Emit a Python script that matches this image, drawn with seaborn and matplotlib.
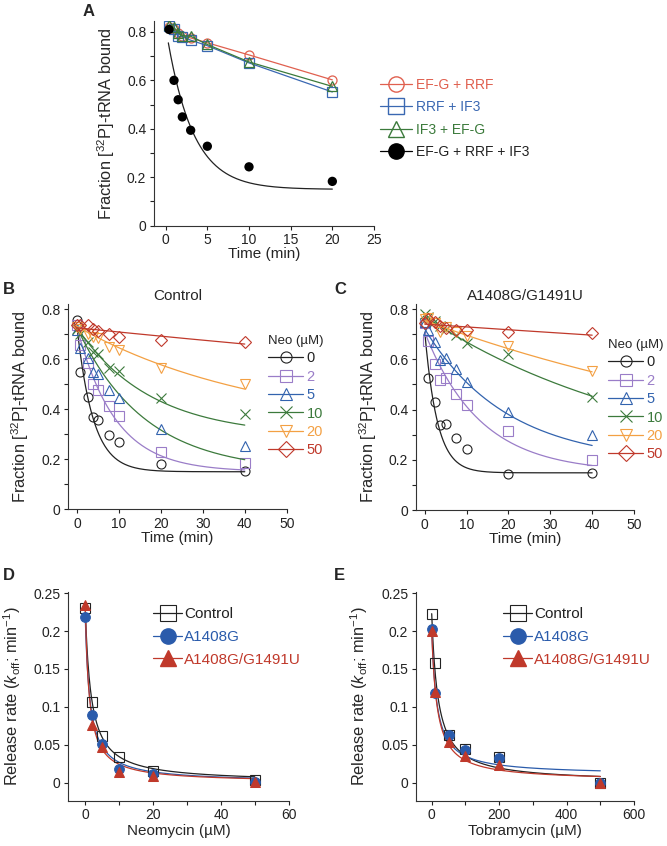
import numpy as np
import pandas as pd
import seaborn as sns
import matplotlib.pyplot as plt
from matplotlib.lines import Line2D
from matplotlib.ticker import MultipleLocator, FuncFormatter

sns.set_style("ticks")
plt.rcParams['font.family'] = ['Liberation Sans', 'DejaVu Sans']
plt.rcParams['mathtext.fontset'] = 'custom'
plt.rcParams['mathtext.rm'] = 'Liberation Sans'
plt.rcParams['mathtext.it'] = 'Liberation Sans:italic'
plt.rcParams['axes.linewidth'] = 0.8
plt.rcParams['axes.edgecolor'] = '#333333'

# ---- panel A: release with factor combinations ----
time_a = [0.4, 1, 1.5, 2, 3, 5, 10, 20]
efg_rrf = [0.822, 0.81, 0.795, 0.785, 0.775, 0.755, 0.705, 0.602]
rrf_if3 = [0.826, 0.81, 0.782, 0.78, 0.766, 0.743, 0.672, 0.552]
if3_efg = [0.828, 0.819, 0.796, 0.785, 0.782, 0.748, 0.676, 0.575]
all_three = [0.81, 0.60, 0.52, 0.449, 0.394, 0.328, 0.243, 0.183]
# single-exponential fit: plateau, amplitude, rate
fit_a = [0.15, 0.67, 0.32]

# ---- panels B/C: neomycin titration ----
time_bc = [0, 0.75, 2.5, 3.75, 5, 7.5, 10, 20, 40]
neo_labels = ["0", "2", "5", "10", "20", "50"]
ctrl = [
    [0.757, 0.55, 0.45, 0.37, 0.357, 0.295, 0.267, 0.179, 0.151],
    [0.735, 0.655, 0.584, 0.501, 0.477, 0.411, 0.373, 0.227, 0.183],
    [0.717, 0.643, 0.604, 0.55, 0.541, 0.475, 0.444, 0.32, 0.251],
    [0.72, 0.70, 0.67, 0.63, 0.62, 0.565, 0.551, 0.445, 0.38],
    [0.73, 0.72, 0.70, 0.69, 0.685, 0.648, 0.636, 0.565, 0.50],
    [0.737, 0.735, 0.737, 0.72, 0.713, 0.70, 0.687, 0.675, 0.668],
]
mut = [
    [0.744, 0.527, 0.429, 0.34, 0.343, 0.287, 0.244, 0.144, 0.149],
    [0.744, 0.673, 0.583, 0.516, 0.527, 0.46, 0.416, 0.313, 0.20],
    [0.747, 0.717, 0.667, 0.597, 0.604, 0.56, 0.51, 0.389, 0.30],
    [0.78, 0.77, 0.753, 0.733, 0.72, 0.696, 0.664, 0.62, 0.451],
    [0.76, 0.765, 0.744, 0.707, 0.727, 0.71, 0.693, 0.651, 0.553],
    [0.744, 0.76, 0.749, 0.733, 0.723, 0.717, 0.717, 0.71, 0.703],
]
# fits: plateau, amplitude, rate
fit_ctrl = [[0.15, 0.575, 0.26], [0.15, 0.575, 0.11], [0.15, 0.575, 0.062],
            [0.292, 0.433, 0.057], [0.3125, 0.4175, 0.0228], [0.15, 0.575, 0.003]]
fit_mut = [[0.148, 0.56, 0.335], [0.15, 0.557, 0.0755], [0.187, 0.533, 0.0508],
           [0.15, 0.62, 0.0179], [0.15, 0.605, 0.01035], [0.15, 0.59, 0.00194]]

# ---- panels D/E: koff vs aminoglycoside ----
neo_conc = [0, 2, 5, 10, 20, 50]
koff_neo_ctrl = [0.2302, 0.106, 0.062, 0.034, 0.016, 0.0035]
koff_neo_a1408g = [0.218, 0.089, 0.051, 0.018, 0.0115, 0.0005]
koff_neo_double = [0.2345, 0.0755, 0.047, 0.0135, 0.009, 0.0013]
tob_conc = [0, 10, 50, 100, 200, 500]
koff_tob_ctrl = [0.223, 0.1575, 0.0624, 0.045, 0.034, 0.0]
koff_tob_a1408g = [0.203, 0.118, 0.0624, 0.043, 0.032, -0.001]
koff_tob_double = [0.20, 0.12, 0.0537, 0.035, 0.023, 0.0]
# hyperbolic fits: k0, K, offset
fit_neo = [[0.23, 1.75, 0.0], [0.218, 1.4, 0.0], [0.2345, 1.15, 0.0]]
fit_tob = [[0.223, 19, 0.0], [0.203, 15, 0.01], [0.20, 16, 0.002]]

strain_labels = ["Control", "A1408G", "A1408G/G1491U"]

RED_A, BLUE_A, GREEN_A = "#e0604f", "#3a68b2", "#3b7a3b"
neo_colors = ["#222222", "#9a7dc8", "#3263ae", "#3c7a3c", "#f3a043", "#c0392b"]
neo_markers = ["o", "s", "^", "x", "v", "D"]
strain_colors = ["#222222", "#2a5bab", "#c0392b"]

W, H = 667, 846
fig = plt.figure(figsize=(6.67, 8.46), dpi=100)


def add_ax(l, r, b, t):
    return fig.add_axes([l / W, 1 - b / H, (r - l) / W, (b - t) / H])


fmt = FuncFormatter(lambda v, _: f"{v:g}")
TICK_FS = 10
XLAB_FS = 11
YLAB_FS = 11.8


def style(ax):
    sns.despine(ax=ax)
    ax.tick_params(which="both", direction="out", length=3, width=0.8,
                   labelsize=TICK_FS, colors="#222222", pad=2.5)
    ax.yaxis.set_major_formatter(fmt)
    ax.xaxis.set_major_formatter(fmt)


def exp_curve(t, p):
    return p[0] + p[1] * np.exp(-p[2] * t)


def hyp_curve(c, p):
    return p[2] + (p[0] - p[2]) / (1 + c / p[1])


# ================= A =================
axA = add_ax(154, 374, 225.7, 21)
seriesA = [(efg_rrf, RED_A, "o", "EF-G + RRF"), (rrf_if3, BLUE_A, "s", "RRF + IF3"),
           (if3_efg, GREEN_A, "^", "IF3 + EF-G")]
for vals, col, mk, lab in seriesA:
    sns.lineplot(x=time_a, y=vals, ax=axA, color=col, lw=0.9, marker=mk, ms=6.5,
                 mfc="none", mec=col, mew=0.9)
sns.scatterplot(x=time_a, y=all_three, ax=axA, color="black", s=45, edgecolor="none",
                zorder=5)
tA = np.linspace(0.32, 20, 200)
sns.lineplot(x=tA, y=exp_curve(tA, fit_a), ax=axA, color="#222222", lw=0.9)
axA.set_xlim(-1.4, 25)
axA.set_ylim(0, 0.845)
axA.xaxis.set_major_locator(MultipleLocator(5))
axA.yaxis.set_major_locator(MultipleLocator(0.2))
axA.yaxis.set_minor_locator(MultipleLocator(0.1))
style(axA)
axA.set_xlabel("Time (min)", fontsize=XLAB_FS, labelpad=0)
axA.set_ylabel(r"Fraction [$^{32}$P]-tRNA bound", fontsize=YLAB_FS)
axA.yaxis.set_label_coords(-0.17, 0.5)
hA = [Line2D([], [], color=c, marker=m, ms=11, mfc="none", mec=c, lw=0.9)
      for _, c, m, _ in seriesA]
hA.append(Line2D([], [], color="black", marker="o", ms=11, lw=0.9))
axA.legend(hA, [s[3] for s in seriesA] + ["EF-G + RRF + IF3"], loc="upper left",
           bbox_to_anchor=(380 / W, 1 - 78 / H), bbox_transform=fig.transFigure,
           frameon=False, fontsize=10, handlelength=2.3, handletextpad=0.3,
           labelspacing=0.6, borderpad=0, borderaxespad=0,
           labelcolor=[RED_A, BLUE_A, GREEN_A, "#222222"])


# ================= B / C =================
def neo_panel(ax, data, fits, title, leg_x, leg_y, fit_colors):
    tf = np.linspace(0, 40, 200)
    for i in range(6):
        col = neo_colors[i]
        sns.lineplot(x=tf, y=exp_curve(tf, fits[i]), ax=ax, color=fit_colors[i], lw=0.9)
        sns.lineplot(x=time_bc, y=data[i], ax=ax, linestyle="none", marker=neo_markers[i],
                     ms=6.5 if neo_markers[i] != "x" else 7, mfc="none", mec=col,
                     mew=0.8, color=col)
    ax.set_xlim(-2.1, 50)
    ax.set_ylim(0, 0.82)
    ax.xaxis.set_major_locator(MultipleLocator(10))
    ax.yaxis.set_major_locator(MultipleLocator(0.2))
    ax.yaxis.set_minor_locator(MultipleLocator(0.1))
    style(ax)
    ax.set_xlabel("Time (min)", fontsize=XLAB_FS, labelpad=0)
    ax.set_ylabel(r"Fraction [$^{32}$P]-tRNA bound", fontsize=YLAB_FS)
    ax.yaxis.set_label_coords(-0.17, 0.5)
    ax.set_title(title, fontsize=XLAB_FS, pad=3)
    hs = [Line2D([], [], color=neo_colors[i], marker=neo_markers[i], ms=8,
                 mfc="none", mec=neo_colors[i], mew=0.8, lw=0.9) for i in range(6)]
    ax.legend(hs, neo_labels, title="Neo (µM)", loc="upper left",
              bbox_to_anchor=(leg_x / W, 1 - leg_y / H),
              bbox_transform=fig.transFigure, frameon=False, fontsize=10.5,
              title_fontsize=9.5, handlelength=2.4, handletextpad=0.25,
              labelspacing=0.3, borderpad=0, borderaxespad=0,
              alignment="left", labelcolor=neo_colors)


axB = add_ax(68.3, 286.7, 509.3, 304)
neo_panel(axB, ctrl, fit_ctrl, "Control", 268, 335,
          [neo_colors[0], neo_colors[1], neo_colors[3], neo_colors[3],
           neo_colors[4], neo_colors[5]])
axC = add_ax(416, 634, 510, 304)
neo_panel(axC, mut, fit_mut, "A1408G/G1491U", 608, 339, neo_colors)


# ================= D / E =================
def koff_panel(ax, conc, ys, fits, xmax, xmaj, xlim_left, xlabel, leg_x, ylab_x):
    cf = np.linspace(0, conc[-1], 400)
    marks = ["s", "o", "^"]
    for i in range(3):
        col = strain_colors[i]
        sns.lineplot(x=cf, y=hyp_curve(cf, fits[i]), ax=ax, color=col, lw=0.9)
    for i in range(3):
        col = strain_colors[i]
        if i == 0:
            sns.lineplot(x=conc, y=ys[i], ax=ax, linestyle="none", marker="s", ms=7.5,
                         mfc="none", mec=col, mew=0.8, color=col)
        else:
            sns.lineplot(x=conc, y=ys[i], ax=ax, linestyle="none", marker=marks[i],
                         ms=7, mfc=col, mec=col, color=col)
    ax.set_xlim(xlim_left, xmax)
    ax.set_ylim(-0.0238, 0.252)
    ax.xaxis.set_major_locator(MultipleLocator(xmaj))
    ax.xaxis.set_minor_locator(MultipleLocator(xmaj / 2))
    ax.yaxis.set_major_locator(MultipleLocator(0.05))
    style(ax)
    ax.set_xlabel(xlabel, fontsize=XLAB_FS, labelpad=1)
    ax.set_ylabel(r"Release rate ($\mathit{k}_{\mathrm{off}}$; min$^{-1}$)",
                  fontsize=YLAB_FS)
    ax.yaxis.set_label_coords(ylab_x, 0.5)
    hs = [Line2D([], [], color=strain_colors[0], marker="s", ms=11, mfc="none",
                 mew=0.8, lw=0.9),
          Line2D([], [], color=strain_colors[1], marker="o", ms=11, lw=0.9),
          Line2D([], [], color=strain_colors[2], marker="^", ms=11, lw=0.9)]
    ax.legend(hs, strain_labels, loc="upper left",
              bbox_to_anchor=(leg_x / W, 1 - 607 / H), bbox_transform=fig.transFigure,
              frameon=False, fontsize=11, handlelength=1.9, handletextpad=0.15,
              labelspacing=0.58, borderpad=0, borderaxespad=0,
              labelcolor=strain_colors)


axD = add_ax(68.3, 288.7, 800.7, 591.7)
koff_panel(axD, neo_conc, [koff_neo_ctrl, koff_neo_a1408g, koff_neo_double], fit_neo,
           60, 20, -5.0, "Neomycin (µM)", 153, -0.205)
axE = add_ax(416, 634, 800.7, 591.7)
koff_panel(axE, tob_conc, [koff_tob_ctrl, koff_tob_a1408g, koff_tob_double], fit_tob,
           600, 200, -46.6, "Tobramycin (µM)", 503, -0.21)

# panel letters
for letter, x, y in [("A", 83, 12), ("B", 3, 290), ("C", 334, 290), ("D", 3, 576),
                     ("E", 334, 576)]:
    fig.text(x / W, 1 - y / H, letter, fontsize=12, fontweight="bold", va="center")

fig.savefig("out.png", dpi=100)
